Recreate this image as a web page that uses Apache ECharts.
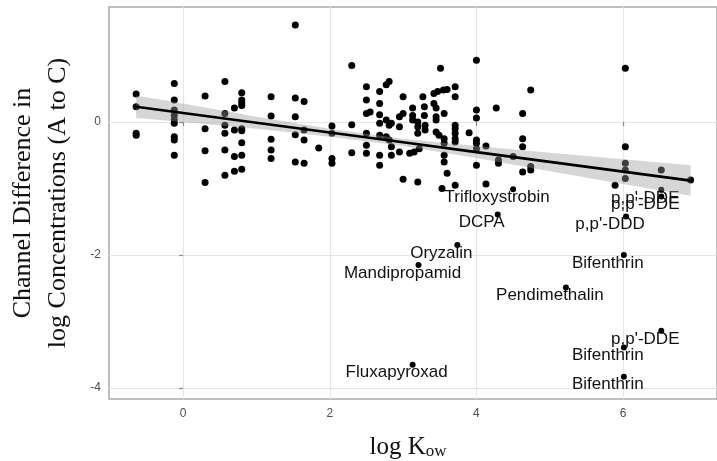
<!DOCTYPE html>
<html>
<head>
<meta charset="utf-8">
<script src="https://cdn.jsdelivr.net/npm/echarts@6/dist/echarts.min.js"></script>
<style>
html,body{margin:0;padding:0;background:#fff;}
#chart{width:717px;height:461px;}
</style>
</head>
<body>
<div id="chart"></div>
<script>
// ---- data ----
const pointX = [
  -0.64,-0.64,-0.64,-0.64,
  -0.12,-0.12,-0.12,-0.12,-0.12,-0.12,-0.12,-0.12,-0.12,
  0.30,0.30,0.30,0.30,
  0.57,0.57,0.57,0.57,0.57,0.57,
  0.70,0.70,0.70,0.70,
  0.80,0.80,0.80,0.80,0.80,0.80,0.80,0.80,0.80,
  1.20,1.20,1.20,1.20,1.20,
  1.53,1.53,1.53,1.53,1.53,
  1.65,1.65,1.65,1.65,
  1.85,
  2.03,2.03,2.03,2.03,
  2.30,2.30,2.30,
  2.50,2.50,2.50,2.50,2.50,2.50,
  2.55,
  2.68,2.68,2.68,2.68,2.68,2.68,2.68,
  2.77,2.77,2.77,
  2.81,2.81,2.81,
  2.84,2.84,2.84,
  2.95,2.95,2.95,
  3.00,3.00,3.00,
  3.09,
  3.13,3.13,3.13,
  3.15,
  3.20,3.20,3.20,3.20,
  3.22,
  3.27,
  3.29,3.29,
  3.30,3.30,
  3.42,3.42,
  3.45,3.45,3.45,3.45,
  3.47,
  3.49,
  3.51,
  3.53,
  3.55,
  3.56,3.56,3.56,3.56,3.56,
  3.60,3.60,
  3.71,3.71,3.71,3.71,3.71,3.71,3.71,3.71,
  3.90,
  4.00,4.00,4.00,4.00,4.00,4.00,4.00,
  4.13,4.13,
  4.27,
  4.30,4.30,
  4.50,
  4.63,4.63,4.63,4.63,
  4.74,4.74,4.74,
  5.89,
  6.03,6.03,6.03,6.03,6.03,
  6.52,
  6.92
];
const pointY = [
  0.42,0.23,-0.17,-0.20,
  0.58,0.33,0.18,0.10,0.03,-0.02,-0.22,-0.27,-0.50,
  0.39,-0.10,-0.43,-0.91,
  0.61,0.13,-0.05,-0.17,-0.42,-0.80,
  0.21,-0.12,-0.52,-0.74,
  0.44,0.33,0.29,0.25,-0.10,-0.13,-0.31,-0.50,-0.71,
  0.38,0.09,-0.26,-0.42,-0.55,
  1.46,0.36,0.08,-0.19,-0.60,
  0.31,-0.12,-0.27,-0.62,
  -0.39,
  -0.06,-0.17,-0.55,-0.62,
  0.85,-0.04,-0.46,
  0.53,0.33,0.13,-0.17,-0.35,-0.47,
  0.15,
  0.46,0.28,0.11,-0.02,-0.20,-0.50,-0.65,
  0.56,0.03,-0.22,
  0.61,-0.05,-0.27,
  -0.02,-0.37,-0.50,
  0.08,-0.07,-0.45,
  0.38,0.13,-0.86,
  -0.47,
  0.21,0.10,0.03,
  -0.45,
  0.00,-0.07,-0.17,-0.90,
  -0.40,
  0.38,
  0.23,0.10,
  -0.05,-0.12,
  0.43,0.28,
  0.21,0.08,0.03,-0.15,
  0.46,
  -0.20,
  0.81,
  -1.00,
  0.48,
  0.13,-0.25,-0.32,-0.50,-0.60,
  0.49,-0.77,
  0.53,0.38,-0.05,-0.10,-0.17,-0.25,-0.30,-0.95,
  -0.16,
  0.93,0.18,0.06,-0.27,-0.32,-0.40,-0.65,
  -0.36,-0.93,
  0.21,
  -0.57,-0.62,
  -0.52,
  0.13,-0.25,-0.37,-0.75,
  0.48,-0.67,-0.72,
  -0.95,
  0.81,-0.37,-0.62,-0.72,-0.85,
  -0.72,
  -0.87
];
const labelNames = ["Trifloxystrobin","DCPA","Oryzalin","Mandipropamid","Pendimethalin","Fluxapyroxad",
  "Bifenthrin","Bifenthrin","Bifenthrin","p,p'-DDE","p,p'-DDE","p,p'-DDE","p,p'-DDD"];
const labelX = [4.50, 4.29, 3.74, 3.21, 5.22, 3.13, 6.01, 6.01, 6.01, 6.52, 6.52, 6.52, 6.04];
const labelY = [-1.01, -1.39, -1.85, -2.15, -2.49, -3.65, -2.00, -3.39, -3.83, -3.14, -1.02, -1.12, -1.42];

// regression fit and confidence band
const bandX    = [-0.64, 0, 1, 2, 3, 4, 5, 6, 6.92];
const bandMid  = [0.23, 0.136, -0.011, -0.158, -0.305, -0.452, -0.599, -0.746, -0.881];
const bandLow  = [0.06, 0.00, -0.10, -0.22, -0.36, -0.54, -0.74, -0.93, -1.11];
const bandHigh = [0.40, 0.28, 0.08, -0.10, -0.25, -0.36, -0.46, -0.56, -0.65];

const xTicks = [0, 2, 4, 6];
const yTicks = [-4, -2, 0];

// ---- chart ----
const chart = echarts.init(document.getElementById('chart'), null, {renderer: 'canvas'});

const pts = pointX.map((x, i) => [x, pointY[i]]);
const lbl = labelX.map((x, i) => ({name: labelNames[i], value: [x, labelY[i]]}));
const fitLine = bandX.map((x, i) => [x, bandMid[i]]);

const tickFont = {color: '#4d4d4d', fontSize: 12, fontFamily: 'Liberation Sans'};

const option = {
  animation: false,
  backgroundColor: '#ffffff',
  grid: {
    left: 109, right: -8, top: 7, bottom: 62,
    show: true, borderColor: '#aaaaaa', borderWidth: 1.5, backgroundColor: '#ffffff'
  },
  xAxis: {
    type: 'value', min: -1.01, max: 7.28, splitNumber: 8,
    axisLine: {show: false},
    axisTick: {show: true, customValues: xTicks, length: 4, lineStyle: {color: '#888888', width: 1.2}},
    axisLabel: Object.assign({customValues: xTicks, margin: 9}, tickFont),
    splitLine: {show: true, lineStyle: {color: '#e6e6e6', width: 1.2}}
  },
  yAxis: {
    type: 'value', min: -4.165, max: 1.73, splitNumber: 6,
    axisLine: {show: false},
    axisTick: {show: true, customValues: yTicks, length: 4, lineStyle: {color: '#888888', width: 1.2}},
    axisLabel: Object.assign({customValues: yTicks, margin: 8}, tickFont),
    splitLine: {show: true, lineStyle: {color: '#e6e6e6', width: 1.2}}
  },
  graphic: [
    {
      type: 'text', x: 41, y: 203, rotation: Math.PI / 2,
      style: {
        text: 'Channel Difference in\nlog Concentrations (A to C)',
        font: '26px "Liberation Serif"', fill: '#111',
        align: 'center', verticalAlign: 'middle', lineHeight: 35
      }
    },
    {
      type: 'text', x: 408, y: 447,
      style: {
        text: '{a|log K}{b|ow}',
        align: 'center', verticalAlign: 'middle', fill: '#111',
        rich: {
          a: {fontFamily: 'Liberation Serif', fontSize: 25, fill: '#111', color: '#111'},
          b: {fontFamily: 'Liberation Serif', fontSize: 17, fill: '#111', color: '#111', padding: [10, 0, 0, 0]}
        }
      }
    }
  ],
  series: [
    {
      type: 'scatter', data: pts, symbol: 'circle', symbolSize: 7,
      itemStyle: {color: '#000000', opacity: 1}, z: 2, silent: true
    },
    {
      type: 'scatter', data: lbl, symbol: 'circle', symbolSize: 6,
      itemStyle: {color: '#000000', opacity: 1}, z: 2, silent: true,
      label: {
        show: true, formatter: '{b}', position: 'inside', offset: [-16, 8],
        align: 'center', verticalAlign: 'middle', opacity: 1,
        color: '#111111', textBorderWidth: 0, textShadowBlur: 0,
        fontSize: 17, fontFamily: 'Liberation Sans'
      }
    },
    {
      type: 'custom', coordinateSystem: 'cartesian2d', data: [[bandX[0], bandMid[0]]],
      silent: true, z: 3,
      renderItem: function (params, api) {
        const poly = [];
        for (let i = 0; i < bandX.length; i++) poly.push(api.coord([bandX[i], bandHigh[i]]));
        for (let i = bandX.length - 1; i >= 0; i--) poly.push(api.coord([bandX[i], bandLow[i]]));
        return {type: 'polygon', shape: {points: poly}, style: {fill: 'rgba(153,153,153,0.4)'}};
      }
    },
    {
      type: 'line', data: fitLine, showSymbol: false, symbol: 'none', z: 4, silent: true,
      lineStyle: {color: '#000000', width: 2.6}
    }
  ]
};
chart.setOption(option);
</script>
</body>
</html>
